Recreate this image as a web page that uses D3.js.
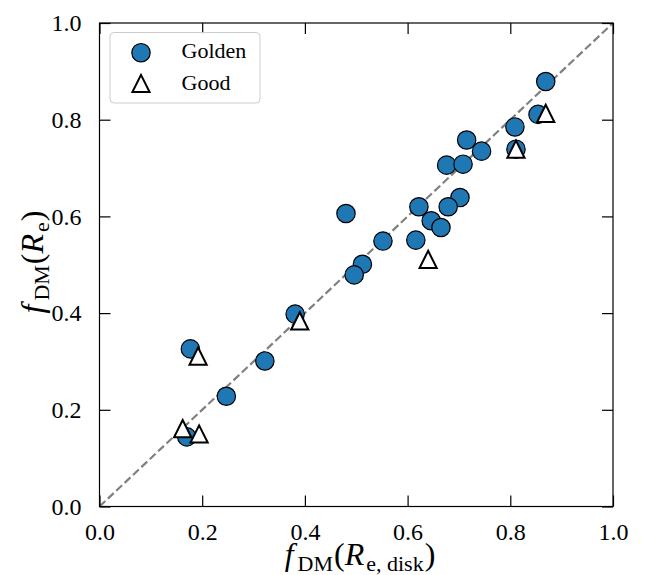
<!DOCTYPE html>
<html>
<head>
<meta charset="utf-8">
<script src="https://cdn.jsdelivr.net/npm/d3@7/dist/d3.min.js"></script>
<style>
  html, body { margin: 0; padding: 0; background: #fff; }
  svg { display: block; }
</style>
</head>
<body>
<svg id="chart" width="646" height="575"></svg>
<script>
// Dark-matter fractions: disk-based effective radius (x) vs. effective radius (y)
const goldenX = [0.869, 0.854, 0.809, 0.811, 0.715, 0.744, 0.676, 0.708, 0.702, 0.679, 0.622, 0.646,
                 0.665, 0.616, 0.480, 0.552, 0.512, 0.496, 0.381, 0.177, 0.322, 0.247, 0.170];
const goldenY = [0.879, 0.811, 0.785, 0.739, 0.758, 0.735, 0.706, 0.708, 0.639, 0.620, 0.620, 0.591,
                 0.577, 0.551, 0.606, 0.549, 0.501, 0.479, 0.398, 0.326, 0.301, 0.228, 0.144];
const goodX = [0.869, 0.811, 0.640, 0.390, 0.192, 0.162, 0.194];
const goodY = [0.813, 0.739, 0.511, 0.384, 0.311, 0.161, 0.150];
const tickValues = [0.0, 0.2, 0.4, 0.6, 0.8, 1.0];
const legendLabels = ["Golden", "Good"];

const svg = d3.select("#chart");
const plotL = 99.5, plotR = 613, plotT = 23, plotB = 506.5;
const x = d3.scaleLinear().domain([0, 1]).range([plotL, plotR]);
const y = d3.scaleLinear().domain([0, 1]).range([plotB, plotT]);

const FONT = '"Liberation Serif"';
const tickFont = 24;
const tickLen = 11;

// one-to-one reference line
svg.append("line")
  .attr("x1", x(0)).attr("y1", y(0))
  .attr("x2", x(1)).attr("y2", y(1))
  .attr("stroke", "#808080").attr("stroke-width", 2.2)
  .attr("stroke-dasharray", "8 3.5");

const plot = svg.append("g");

// Golden sample
plot.selectAll("circle.golden")
  .data(d3.range(goldenX.length))
  .join("circle")
  .attr("class", "golden")
  .attr("cx", i => x(goldenX[i]))
  .attr("cy", i => y(goldenY[i]))
  .attr("r", 9.2)
  .attr("fill", "#1f77b4")
  .attr("stroke", "#000")
  .attr("stroke-width", 1.2);

// Good sample
const tri = h => `M0,${-h}L${-h},${h}L${h},${h}Z`;
plot.selectAll("path.good")
  .data(d3.range(goodX.length))
  .join("path")
  .attr("class", "good")
  .attr("d", tri(8.6))
  .attr("transform", i => `translate(${x(goodX[i])},${y(goodY[i])})`)
  .attr("fill", "#fff")
  .attr("stroke", "#000")
  .attr("stroke-width", 2)
  .attr("stroke-linejoin", "miter");

// axes with inward ticks on all sides
function styleAxis(g) {
  g.select(".domain").remove();
  g.attr("font-family", FONT);
  g.selectAll(".tick line").attr("stroke", "#000").attr("stroke-width", 1.2);
  g.selectAll(".tick text")
    .style("font-family", FONT)
    .style("font-size", tickFont + "px")
    .attr("fill", "#000");
}
const fmt = d3.format(".1f");
svg.append("g").attr("transform", `translate(0,${plotB})`)
  .call(d3.axisBottom(x).tickValues(tickValues).tickFormat(fmt).tickSize(-tickLen).tickPadding(tickLen + 5))
  .call(styleAxis);
svg.append("g").attr("transform", `translate(0,${plotT})`)
  .call(d3.axisTop(x).tickValues(tickValues).tickFormat("").tickSize(-tickLen))
  .call(styleAxis);
svg.append("g").attr("transform", `translate(${plotL},0)`)
  .call(d3.axisLeft(y).tickValues(tickValues).tickFormat(fmt).tickSize(-tickLen).tickPadding(tickLen + 7))
  .call(styleAxis);
svg.append("g").attr("transform", `translate(${plotR},0)`)
  .call(d3.axisRight(y).tickValues(tickValues).tickFormat("").tickSize(-tickLen))
  .call(styleAxis);

// frame
svg.append("rect")
  .attr("x", plotL).attr("y", plotT).attr("width", plotR - plotL).attr("height", plotB - plotT)
  .attr("fill", "none").attr("stroke", "#000").attr("stroke-width", 1.2);

// axis labels, written as math: italic symbols with roman subscripts
const mainSize = 32, subSize = 22, subDrop = 6;
function mathLabel(t, parts) {
  parts.forEach(p => {
    const s = t.append("tspan").text(p.t)
      .style("font-family", FONT)
      .style("font-size", (p.sub ? subSize : mainSize) + "px")
      .style("font-style", p.it ? "italic" : "normal");
    if (p.sub) s.attr("dy", subDrop).attr("dx", p.gap || 2);
    if (p.after) s.attr("dy", -subDrop).attr("dx", 1);
  });
}
const xl = svg.append("text")
  .attr("x", 360).attr("y", 565)
  .attr("text-anchor", "middle").attr("fill", "#000")
  .style("font-family", FONT);
mathLabel(xl, [
  {t: "f", it: true}, {t: "DM", sub: true, gap: 4}, {t: "(", after: true},
  {t: "R", it: true}, {t: "e, disk", sub: true}, {t: ")", after: true}
]);
const yl = svg.append("text")
  .attr("transform", "translate(43,262) rotate(-90)")
  .attr("text-anchor", "middle").attr("fill", "#000")
  .style("font-family", FONT);
mathLabel(yl, [
  {t: "f", it: true}, {t: "DM", sub: true, gap: 4}, {t: "(", after: true},
  {t: "R", it: true}, {t: "e", sub: true}, {t: ")", after: true}
]);

// legend
const lg = svg.append("g");
lg.append("rect")
  .attr("x", 110).attr("y", 32.5).attr("width", 150).attr("height", 70.5)
  .attr("rx", 4).attr("fill", "#fff").attr("fill-opacity", 0.8)
  .attr("stroke", "#cccccc").attr("stroke-width", 1);
lg.append("circle").attr("cx", 141).attr("cy", 52.7).attr("r", 9.2)
  .attr("fill", "#1f77b4").attr("stroke", "#000").attr("stroke-width", 1.2);
lg.append("path").attr("d", tri(8.6)).attr("transform", "translate(141,83.5)")
  .attr("fill", "#fff").attr("stroke", "#000").attr("stroke-width", 2);
lg.selectAll("text.lab").data(legendLabels).join("text")
  .attr("class", "lab")
  .attr("x", 181.5).attr("y", (d, i) => 57.7 + i * 31.8)
  .style("font-family", FONT)
  .style("font-size", "22px").attr("fill", "#000")
  .text(d => d);
</script>
</body>
</html>
